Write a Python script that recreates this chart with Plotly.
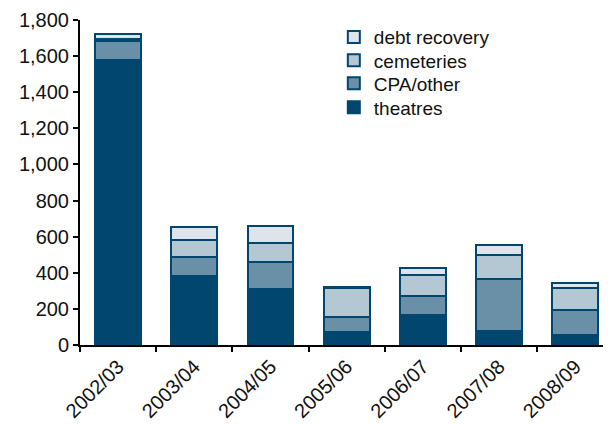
import plotly.graph_objects as go

years = ["2002/03", "2003/04", "2004/05", "2005/06", "2006/07", "2007/08", "2008/09"]
theatres = [1580, 383, 310, 70, 168, 79, 53]
cpa_other = [105, 102, 148, 83, 101, 289, 143]
cemeteries = [12, 97, 106, 160, 121, 128, 120]
debt_recovery = [28, 70, 97, 10, 37, 57, 27]

# name, values, fill colour, legend id, legend row centre (paper y)
series = [
    ("theatres", theatres, "#00466E", "legend", 0.731),
    ("CPA/other", cpa_other, "#6990A7", "legend2", 0.805),
    ("cemeteries", cemeteries, "#B4C8D3", "legend3", 0.876),
    ("debt recovery", debt_recovery, "#DDE4EC", "legend4", 0.947),
]

FONT = "Liberation Sans, Arial, sans-serif"

fig = go.Figure()
legends = {}
for name, vals, col, leg, ly in series:
    fig.add_trace(go.Bar(
        x=years, y=vals, name=name, legend=leg, showlegend=True,
        marker=dict(color=col, line=dict(color="#00466E", width=2)),
    ))
    legends[leg] = dict(
        x=0.478, y=ly, xanchor="left", yanchor="middle",
        font=dict(size=19), bgcolor="rgba(0,0,0,0)",
    )

# page has an 8px body margin, so the figure is sized to fit inside it
fig.update_layout(
    barmode="stack",
    bargap=0.4,
    width=603, height=416,
    margin=dict(l=72, r=0, t=12, b=79),
    plot_bgcolor="white", paper_bgcolor="white",
    font=dict(family=FONT, size=19, color="#111111"),
    showlegend=True,
    **legends,
)
fig.update_yaxes(
    range=[0, 1800], dtick=200, tickformat=",",
    showgrid=False, zeroline=False,
    showline=True, linecolor="black", linewidth=2,
    ticks="outside", ticklen=5, tickwidth=2, tickcolor="black",
    tickfont=dict(size=20),
)
fig.update_xaxes(
    range=[-0.5, 6.47],
    showgrid=False,
    showline=True, linecolor="black", linewidth=2,
    ticks="outside", tickson="boundaries", ticklen=5, tickwidth=2, tickcolor="black",
    tickangle=-45, tickfont=dict(size=20),
    automargin=False,
)

fig.write_html("out.html")
